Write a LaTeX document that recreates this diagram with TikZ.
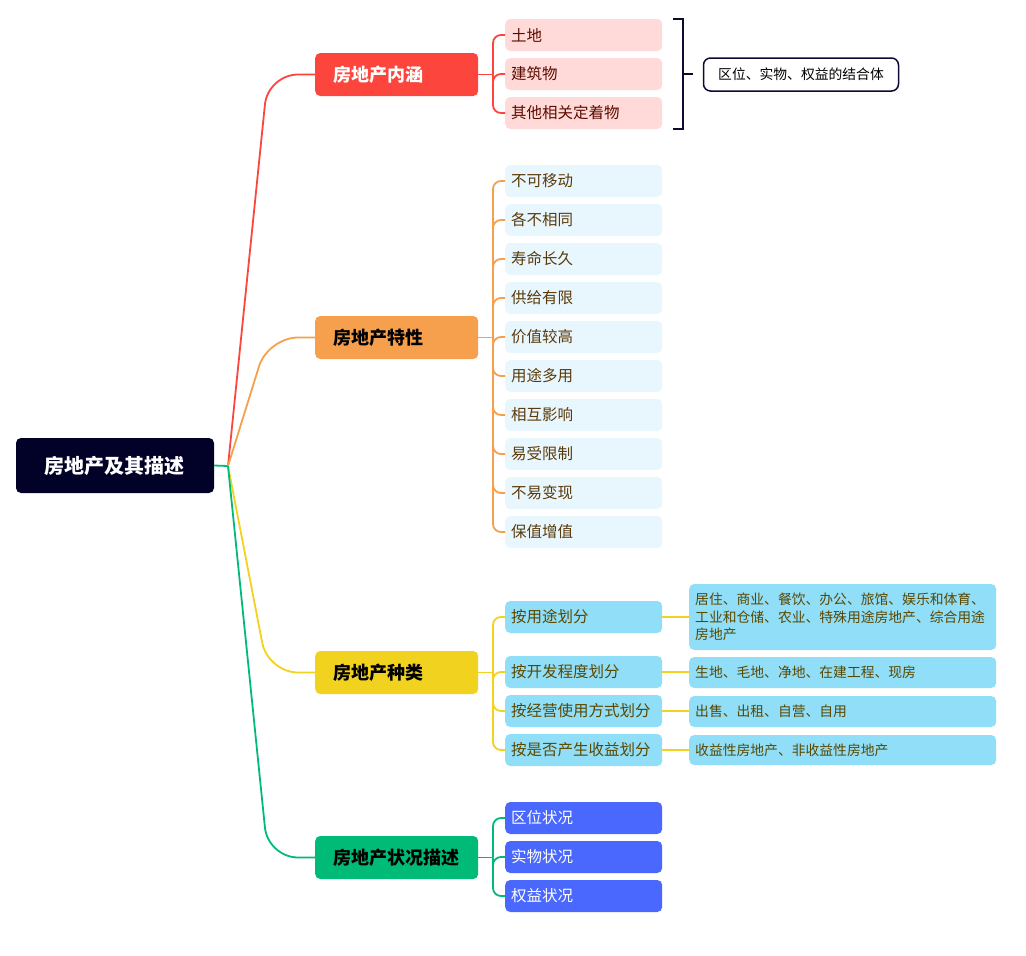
\documentclass[tikz,border=0pt]{standalone}
\usepackage{fontspec}
\newfontfamily\cjk{Noto Sans CJK SC}
\definecolor{rootc}{RGB}{2,1,40}
\definecolor{redc}{RGB}{252,69,60}
\definecolor{orac}{RGB}{246,160,77}
\definecolor{yelc}{RGB}{241,210,31}
\definecolor{grnc}{RGB}{0,187,120}
\definecolor{pinkf}{RGB}{255,218,216}
\definecolor{pinkt}{RGB}{92,11,0}
\definecolor{cyanf}{RGB}{232,247,253}
\definecolor{cyant}{RGB}{90,58,10}
\definecolor{bluef}{RGB}{144,222,248}
\definecolor{bluet}{RGB}{90,72,0}
\definecolor{dbluef}{RGB}{74,104,254}
\definecolor{navy}{RGB}{10,10,50}
\tikzset{
  rootbox/.style={fill=rootc, text=white, rounded corners=5, minimum width=198, minimum height=55, inner sep=0, font=\cjk\bfseries\fontsize{20}{24}\selectfont},
  branch/.style={rounded corners=5, minimum height=43, text width=127, inner xsep=18, inner ysep=0, align=left, anchor=west, font=\cjk\bfseries\fontsize{18}{22}\selectfont},
  leaf/.style={rounded corners=5, minimum height=32, text width=145, inner xsep=6, inner ysep=0, align=left, anchor=west, font=\cjk\fontsize{15.5}{18}\selectfont},
  wide/.style={rounded corners=5, text width=295, inner xsep=6, inner ysep=0, align=left, anchor=west, font=\cjk\fontsize{13.8}{17.5}\selectfont, fill=bluef, text=bluet},
  conn/.style={line width=1.8, rounded corners=8},
  mainconn/.style={line width=1.8, rounded corners=30}
}
\begin{document}
\begin{tikzpicture}[x=1pt,y=-1pt]
\useasboundingbox (0,0) rectangle (1026,956);
% root
\node[rootbox] (root) at (115,465.5) {房地产及其描述};
\coordinate (r) at (228,466);
% branches
\node[branch, fill=redc, text=white] (b1) at (315,74.5) {房地产内涵};
\node[branch, fill=orac, text=black] (b2) at (315,337.5) {房地产特性};
\node[branch, fill=yelc, text=black] (b3) at (315,672.5) {房地产种类};
\node[branch, fill=grnc, text=black] (b4) at (315,857.5) {房地产状况描述};
\draw[grnc, line width=1.8] (root.east) -- (r);
\draw[mainconn, redc] (r) -- (268,74.5) -- (b1.west);
\draw[mainconn, orac] (r) -- (268,337.5) -- (b2.west);
\draw[mainconn, yelc] (r) -- (268,672.5) -- (b3.west);
\draw[mainconn, grnc] (r) -- (268,857.5) -- (b4.west);
% branch 1 children
\tikzset{p/.style={leaf, fill=pinkf, text=pinkt}}
\node[p] (a1) at (505,35) {土地};
\node[p] (a2) at (505,74) {建筑物};
\node[p] (a3) at (505,113) {其他相关定着物};
\coordinate (j1) at (493,74.5);
\draw[conn, redc] (b1.east) -- (j1);
\foreach \n in {a1,a2,a3} \draw[conn, redc] (j1) |- (\n.west);
% bracket and summary
\draw[navy, line width=2] (673,19) -- (683,19) -- (683,129) -- (673,129);
\coordinate (bm) at (683,74);
\node[draw=navy, line width=1.5, rounded corners=7, fill=white, minimum width=195, minimum height=33, inner sep=0, font=\cjk\fontsize{13.8}{16}\selectfont, text=black] (sum) at (801,74.5) {区位、实物、权益的结合体};
\draw[navy, line width=2] (bm) -- ++(10,0);
% branch 2 children
\tikzset{c/.style={leaf, fill=cyanf, text=cyant}}
\node[c] (t1) at (505,181) {不可移动};
\node[c] (t2) at (505,220) {各不相同};
\node[c] (t3) at (505,259) {寿命长久};
\node[c] (t4) at (505,298) {供给有限};
\node[c] (t5) at (505,337) {价值较高};
\node[c] (t6) at (505,376) {用途多用};
\node[c] (t7) at (505,415) {相互影响};
\node[c] (t8) at (505,454) {易受限制};
\node[c] (t9) at (505,493) {不易变现};
\node[c] (t10) at (505,532) {保值增值};
\coordinate (j2) at (493,337.5);
\draw[conn, orac] (b2.east) -- (j2);
\foreach \n in {t1,t2,t3,t4,t5,t6,t7,t8,t9,t10} \draw[conn, orac] (j2) |- (\n.west);
% branch 3 children
\tikzset{k/.style={leaf, fill=bluef, text=bluet}}
\node[k] (k1) at (505,617) {按用途划分};
\node[k] (k2) at (505,672) {按开发程度划分};
\node[k] (k3) at (505,711) {按经营使用方式划分};
\node[k] (k4) at (505,750) {按是否产生收益划分};
\coordinate (j3) at (493,672.5);
\draw[conn, yelc] (b3.east) -- (j3);
\foreach \n in {k1,k2,k3,k4} \draw[conn, yelc] (j3) |- (\n.west);
\node[wide, minimum height=66] (g1) at (689,617) {居住、商业、餐饮、办公、旅馆、娱乐和体育、\\工业和仓储、农业、特殊用途房地产、综合用途\\房地产};
\node[wide, minimum height=31] (g2) at (689,672.5) {生地、毛地、净地、在建工程、现房};
\node[wide, minimum height=31] (g3) at (689,711.5) {出售、出租、自营、自用};
\node[wide, minimum height=30] (g4) at (689,750) {收益性房地产、非收益性房地产};
\draw[yelc, line width=1.8] (k1.east) -- (k1.east -| g1.west);
\draw[yelc, line width=1.8] (k2.east) -- (k2.east -| g2.west);
\draw[yelc, line width=1.8] (k3.east) -- (k3.east -| g3.west);
\draw[yelc, line width=1.8] (k4.east) -- (k4.east -| g4.west);
% branch 4 children
\tikzset{d/.style={leaf, fill=dbluef, text=white}}
\node[d] (s1) at (505,818) {区位状况};
\node[d] (s2) at (505,857) {实物状况};
\node[d] (s3) at (505,896) {权益状况};
\coordinate (j4) at (493,857.5);
\draw[conn, grnc] (b4.east) -- (j4);
\foreach \n in {s1,s2,s3} \draw[conn, grnc] (j4) |- (\n.west);
\end{tikzpicture}
\end{document}
